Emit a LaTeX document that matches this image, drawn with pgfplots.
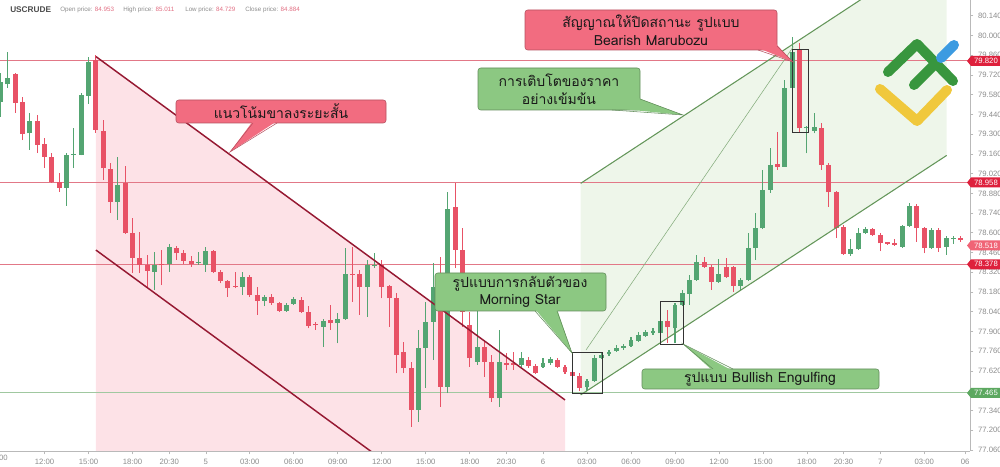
\documentclass[border=0pt]{standalone}
\usepackage{fontspec}
\setmainfont{Liberation Sans}
\newfontfamily\thaifont[Script=Thai]{Loma}
\usepackage{pgfplots}
\usepackage{pgfplotstable}
\pgfplotsset{compat=1.18}

\definecolor{upc}{RGB}{84,165,114}
\definecolor{dnc}{RGB}{232,82,102}
\definecolor{hred}{RGB}{226,120,135}
\definecolor{hgreen}{RGB}{160,200,160}
\definecolor{pinkfill}{RGB}{253,226,231}
\definecolor{greenfill}{RGB}{238,246,234}
\definecolor{trendred}{RGB}{150,25,50}
\definecolor{trendgreen}{RGB}{100,150,90}
\definecolor{calred}{RGB}{242,108,128}
\definecolor{calgreen}{RGB}{140,200,130}
\definecolor{axgray}{RGB}{185,185,185}
\definecolor{txtgray}{RGB}{140,140,140}
\definecolor{numred}{RGB}{225,110,130}
\definecolor{lblred}{RGB}{222,32,60}
\definecolor{lblpink}{RGB}{240,100,118}
\definecolor{lblgreen}{RGB}{92,168,96}
\definecolor{logogreen}{RGB}{56,150,62}
\definecolor{logoblue}{RGB}{60,155,225}
\definecolor{logoyellow}{RGB}{240,200,60}

\pgfplotstableread{
i O H L C
0 79.530 79.733 79.424 79.672
1 79.653 79.884 79.627 79.700
2 79.724 79.736 79.452 79.523
3 79.530 79.561 79.258 79.299
4 79.306 79.452 79.188 79.393
5 79.393 79.436 79.166 79.223
6 79.228 79.273 79.060 79.140
7 79.140 79.166 78.954 78.963
8 78.963 79.024 78.892 78.920
9 78.920 79.166 78.793 79.152
10 79.152 79.344 79.058 79.159
11 79.152 79.592 79.150 79.577
12 79.572 79.849 79.514 79.814
13 79.826 79.861 79.308 79.329
14 79.324 79.400 78.975 79.058
15 79.053 79.095 78.741 78.821
16 78.821 79.140 78.691 78.939
17 78.951 79.074 78.595 78.601
18 78.601 78.705 78.315 78.420
19 78.420 78.608 78.315 78.372
20 78.372 78.443 78.218 78.332
21 78.325 78.466 78.195 78.372
22 78.374 78.479 78.230 78.370
23 78.377 78.521 78.325 78.498
24 78.495 78.507 78.408 78.455
25 78.455 78.479 78.379 78.401
26 78.401 78.436 78.358 78.377
27 78.388 78.464 78.372 78.391
28 78.372 78.502 78.325 78.471
29 78.471 78.479 78.315 78.325
30 78.325 78.337 78.242 78.259
31 78.259 78.266 78.147 78.207
32 78.222 78.320 78.206 78.216
33 78.218 78.320 78.159 78.285
34 78.285 78.301 78.147 78.159
35 78.159 78.218 78.018 78.119
36 78.119 78.159 78.081 78.147
37 78.147 78.167 78.089 78.101
38 78.101 78.110 78.039 78.048
39 78.048 78.103 78.039 78.089
40 78.096 78.145 78.089 78.129
41 78.124 78.147 78.032 78.037
42 78.037 78.081 77.923 77.940
43 77.947 77.970 77.911 77.943
44 77.935 77.989 77.793 77.977
45 77.982 78.089 77.911 77.959
46 77.959 78.034 77.817 77.987
47 77.989 78.491 77.982 78.308
48 78.308 78.502 78.112 78.301
49 78.308 78.337 78.018 78.218
50 78.218 78.408 78.006 78.372
51 78.365 78.455 78.351 78.372
52 78.372 78.408 78.136 78.218
53 78.223 78.230 77.933 78.136
54 78.136 78.174 77.604 77.734
55 77.757 77.828 77.606 77.640
56 77.640 77.684 77.226 77.344
57 77.344 77.911 77.261 77.782
58 77.782 78.112 77.498 77.970
59 77.970 78.384 77.699 78.218
60 78.112 78.431 77.368 77.509
61 77.509 78.892 77.463 78.767
62 78.781 78.951 78.349 78.479
63 78.479 78.635 77.935 78.041
64 77.947 78.041 77.651 77.711
65 77.687 78.053 77.663 77.793
66 77.793 77.840 77.580 77.687
67 77.687 77.734 77.403 77.427
68 77.427 77.911 77.368 77.687
69 77.679 77.746 77.628 77.663
70 77.675 77.757 77.628 77.663
71 77.663 77.755 77.649 77.711
72 77.699 77.720 77.642 77.656
73 77.656 77.670 77.599 77.609
74 77.651 77.713 77.642 77.675
75 77.675 77.720 77.663 77.704
76 77.699 77.713 77.642 77.651
77 77.647 77.663 77.599 77.611
78 77.611 77.651 77.578 77.587
79 77.585 77.604 77.481 77.498
80 77.505 77.564 77.481 77.550
81 77.550 77.734 77.543 77.711
82 77.715 77.748 77.706 77.734
83 77.739 77.770 77.727 77.757
84 77.762 77.805 77.755 77.782
85 77.782 77.812 77.770 77.798
86 77.798 77.860 77.791 77.840
87 77.835 77.899 77.826 77.876
88 77.869 77.911 77.862 77.899
89 77.888 77.923 77.876 77.904
90 77.888 77.987 77.883 77.977
91 77.977 78.053 77.817 77.930
92 77.923 78.103 77.817 78.089
93 78.089 78.195 78.081 78.172
94 78.167 78.301 78.089 78.266
95 78.266 78.443 78.259 78.396
96 78.396 78.431 78.351 78.360
97 78.360 78.372 78.195 78.254
98 78.254 78.413 78.245 78.308
99 78.360 78.420 78.280 78.289
100 78.356 78.365 78.183 78.223
101 78.223 78.280 78.195 78.266
102 78.266 78.597 78.259 78.491
103 78.491 78.739 78.408 78.632
104 78.632 79.046 78.627 78.904
105 78.904 79.200 78.885 79.081
106 79.086 79.317 79.046 79.069
107 79.069 79.684 79.067 79.629
108 79.629 79.987 79.627 79.884
109 79.897 79.944 79.317 79.341
110 79.341 79.358 79.164 79.343
111 79.324 79.448 79.306 79.353
112 79.341 79.377 79.046 79.081
113 79.081 79.095 78.786 78.886
114 78.886 78.897 78.562 78.632
115 78.644 78.656 78.443 78.450
116 78.450 78.554 78.436 78.483
117 78.483 78.632 78.479 78.597
118 78.597 78.644 78.592 78.625
119 78.625 78.635 78.578 78.585
120 78.585 78.599 78.471 78.526
121 78.526 78.537 78.514 78.524
122 78.530 78.554 78.507 78.512
123 78.502 78.656 78.493 78.649
124 78.647 78.814 78.642 78.793
125 78.793 78.805 78.537 78.632
126 78.632 78.642 78.455 78.491
127 78.491 78.635 78.486 78.622
128 78.622 78.635 78.466 78.491
129 78.502 78.578 78.443 78.562
130 78.553 78.578 78.521 78.556
131 78.562 78.578 78.537 78.549
}\candles

\begin{document}
\begin{tikzpicture}
\begin{axis}[
  at={(0pt,12pt)}, anchor=south west,
  width=727.5pt, height=338.25pt, scale only axis,
  xmin=-0.082, xmax=132.25, ymin=77.053, ymax=80.251,
  axis x line*=bottom, axis y line*=right,
  axis line style={draw=axgray, line width=0.6pt},
  xtick={6,12,18,23,28,34,40,46,52,58,64,69,74,80,86,92,98,104,110,115,120,126,131.6},
  xticklabels={12:00,15:00,18:00,20:30,5,03:00,06:00,09:00,12:00,15:00,18:00,20:30,6,03:00,06:00,09:00,12:00,15:00,18:00,20:30,7,03:00,06},
  ytick={77.06,77.2,77.34,77.62,77.76,77.9,78.04,78.18,78.32,78.46,78.6,78.74,78.88,79.02,79.16,79.3,79.44,79.58,79.72,79.86,80,80.14},
  tick style={draw=axgray, line width=0.5pt},
  tick align=outside, major tick length=2.5pt,
  tick label style={font=\fontsize{5.8}{6}\selectfont, text=txtgray},
  /pgf/number format/assume math mode=true,
  yticklabel style={/pgf/number format/.cd, fixed, fixed zerofill, precision=3},
  clip mode=individual,
]
% shaded channels
\addplot[draw=none, fill=pinkfill, forget plot] coordinates {(13.0,79.85) (77.0,77.415) (77.0,76.9) (13.0,76.9)} -- cycle;
\addplot[draw=none, fill=greenfill, forget plot] coordinates {(79.14,78.951) (129.07,80.653) (129.07,79.149) (79.14,77.451)} -- cycle;
% horizontal levels
\addplot[hred, line width=0.75pt, forget plot] coordinates {(-1,79.82) (140,79.82)};
\addplot[hred, line width=0.75pt, forget plot] coordinates {(-1,78.958) (140,78.958)};
\addplot[hred, line width=0.75pt, forget plot] coordinates {(-1,78.378) (140,78.378)};
\addplot[hgreen, line width=0.75pt, forget plot] coordinates {(-1,77.465) (140,77.465)};
% wicks
\addplot[draw=none, mark=none, forget plot, restrict expr to domain={\thisrow{C}-\thisrow{O}}{0:10},
  error bars/.cd, y dir=plus, y explicit, error mark=none, error bar style={draw=upc, line width=0.8pt}]
  table[x=i, y=L, y error plus expr=\thisrow{H}-\thisrow{L}]{\candles};
\addplot[draw=none, mark=none, forget plot, restrict expr to domain={\thisrow{C}-\thisrow{O}}{-10:-0.0001},
  error bars/.cd, y dir=plus, y explicit, error mark=none, error bar style={draw=dnc, line width=0.8pt}]
  table[x=i, y=L, y error plus expr=\thisrow{H}-\thisrow{L}]{\candles};
% bodies
\addplot[draw=none, mark=none, forget plot, restrict expr to domain={\thisrow{C}-\thisrow{O}}{0:10},
  error bars/.cd, y dir=plus, y explicit, error mark=none, error bar style={draw=upc, line width=3.7pt}]
  table[x=i, y expr={min(\thisrow{O},\thisrow{C})}, y error plus expr={max(abs(\thisrow{C}-\thisrow{O}),0.008)}]{\candles};
\addplot[draw=none, mark=none, forget plot, restrict expr to domain={\thisrow{C}-\thisrow{O}}{-10:-0.0001},
  error bars/.cd, y dir=plus, y explicit, error mark=none, error bar style={draw=dnc, line width=3.7pt}]
  table[x=i, y expr={min(\thisrow{O},\thisrow{C})}, y error plus expr={max(abs(\thisrow{C}-\thisrow{O}),0.008)}]{\candles};
% trend lines
\addplot[trendred, line width=1.1pt, forget plot] coordinates {(13.0,79.85) (77.0,77.415)};
\addplot[trendred, line width=1.1pt, forget plot] coordinates {(13.0,78.478) (60,76.690)};
\addplot[trendgreen, line width=0.8pt, forget plot] coordinates {(79.14,78.951) (135,80.855)};
\addplot[trendgreen, line width=0.8pt, forget plot] coordinates {(79.14,77.451) (129.07,79.149)};
\addplot[trendgreen!80, line width=0.4pt, forget plot] coordinates {(79.86,77.769) (108.15,79.920)};
% pattern boxes
\draw[black!80, line width=0.6pt] (axis cs:78.05,77.750) rectangle (axis cs:82.1,77.462);
\draw[black!80, line width=0.6pt] (axis cs:90.06,78.112) rectangle (axis cs:93.14,77.810);
\draw[black!80, line width=0.6pt] (axis cs:108.0,79.901) rectangle (axis cs:110.2,79.313);
\end{axis}

\begin{scope}[x=0.75pt, y=-0.75pt, yshift=350.25pt]
\tikzset{tt/.style={font=\thaifont\fontsize{10.5}{13.3}\selectfont, align=center, text=black!90}}
% callout a (red)
\filldraw[fill=calred, draw=calred!75!black, line width=0.4pt, rounded corners=2pt] (176,100) rectangle (386,123);
\fill[calred] (253,121) -- (277,121) -- (230,152) -- cycle;
\draw[calred!75!black, line width=0.4pt] (253,123) -- (230,152) -- (277,123);
\node[tt] at (281,111) {แนวโน้มขาลงระยะสั้น};
% callout b (red top)
\filldraw[fill=calred, draw=calred!75!black, line width=0.4pt, rounded corners=2pt] (525,10) rectangle (777,50);
\fill[calred] (758,48) -- (776,44) -- (793,62) -- cycle;
\draw[calred!75!black, line width=0.4pt] (758,50) -- (793,62) -- (777,46);
\node[tt] at (651,30) {สัญญาณให้ปิดสถานะ รูปแบบ\\Bearish Marubozu};
% callout c (green)
\filldraw[fill=calgreen, draw=calgreen!70!black, line width=0.4pt, rounded corners=2pt] (478,68) rectangle (640,110);
\fill[calgreen] (612,108) -- (638,98) -- (683,115) -- cycle;
\draw[calgreen!70!black, line width=0.4pt] (612,110) -- (683,115) -- (640,99);
\node[tt] at (559,89) {การเติบโตของราคา\\อย่างเข้มข้น};
% callout d (Morning Star)
\filldraw[fill=calgreen, draw=calgreen!70!black, line width=0.4pt, rounded corners=2pt] (435,273) rectangle (606,311);
\fill[calgreen] (535,309) -- (557,309) -- (572,353) -- cycle;
\draw[calgreen!70!black, line width=0.4pt] (535,311) -- (572,353) -- (557,311);
\node[tt] at (520,292) {รูปแบบการกลับตัวของ\\Morning Star};
% callout e (Bullish Engulfing)
\filldraw[fill=calgreen, draw=calgreen!70!black, line width=0.4pt, rounded corners=2pt] (642,369) rectangle (879,389);
\fill[calgreen] (713,371) -- (733,371) -- (683,344) -- cycle;
\draw[calgreen!70!black, line width=0.4pt] (713,369) -- (683,344) -- (733,369);
\node[tt] at (760,379) {รูปแบบ Bullish Engulfing};
% logo
\draw[logoyellow, line width=7.5pt, line cap=round, line join=round] (880,89) -- (917,121) -- (947,90);
\draw[logogreen, line width=7.5pt, line cap=round, line join=round] (888,72) -- (917,44) -- (953,81);
\draw[logogreen, line width=7.5pt, line cap=round] (914,85) -- (934,65);
\draw[logoblue, line width=7.5pt, line cap=round] (941,58) -- (954,45);
% price labels
\foreach \yy/\tx/\cc in {61/79.820/lblred, 182.5/78.958/lblred, 245.5/78.518/lblpink, 264.3/78.378/lblred, 393/77.465/lblgreen}{
  \fill[\cc] (967,\yy) -- (971,\yy-5) -- (1000,\yy-5) -- (1000,\yy+5) -- (971,\yy+5) -- cycle;
  \node[font=\fontsize{5.8}{6}\selectfont, text=white, inner sep=0pt] at (986,\yy) {\tx};
}
% partial first x label
\node[font=\fontsize{5.8}{6}\selectfont, text=txtgray] at (-2,458) {09:00};
% header
\node[anchor=west, inner sep=0pt, font=\bfseries\fontsize{6.2}{7}\selectfont, text=black!70] at (10,10) {USCRUDE};
\node[anchor=west, inner sep=0pt, font=\fontsize{4.7}{5}\selectfont, text=txtgray] at (60,10) {Open price: \textcolor{numred}{84.953}};
\node[anchor=west, inner sep=0pt, font=\fontsize{4.7}{5}\selectfont, text=txtgray] at (123,10) {High price: \textcolor{numred}{85.011}};
\node[anchor=west, inner sep=0pt, font=\fontsize{4.7}{5}\selectfont, text=txtgray] at (185,10) {Low price: \textcolor{numred}{84.729}};
\node[anchor=west, inner sep=0pt, font=\fontsize{4.7}{5}\selectfont, text=txtgray] at (245,10) {Close price: \textcolor{numred}{84.884}};
\end{scope}
\pgfresetboundingbox
\path[use as bounding box] (0pt,0pt) rectangle (750pt,350.25pt);
\end{tikzpicture}
\end{document}
